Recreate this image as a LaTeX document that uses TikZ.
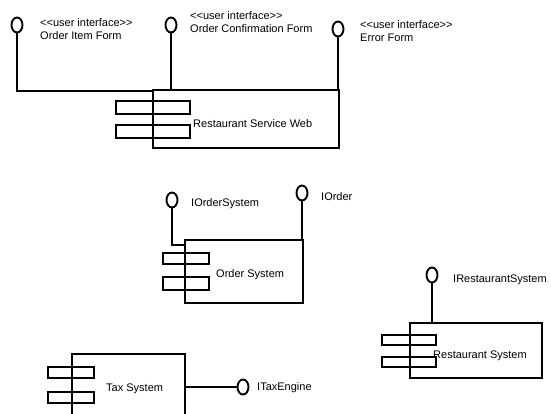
\documentclass[tikz,border=0pt]{standalone}
\usepackage{fontspec}
\setmainfont{Liberation Sans}
\usetikzlibrary{shapes.geometric}
\newcommand{\ltlt}{<\kern0pt<}
\newcommand{\gtgt}{>\kern0pt>}
\begin{document}
\begin{tikzpicture}[x=1pt,y=-1pt,
  comp/.style={draw,line width=1.9pt,rectangle,inner sep=0pt},
  lolly/.style={draw,line width=1.9pt,ellipse,minimum width=11pt,minimum height=15pt,inner sep=0pt},
  conn/.style={line width=1.9pt},
  tab/.style={line width=1.9pt},
  lbl/.style={inner sep=0pt,anchor=west,font=\fontsize{11}{13}\selectfont,align=left}]
\useasboundingbox (0,0) rectangle (551,413);
\clip (0,0) rectangle (551,413);
% Restaurant Service Web
\node[comp,minimum width=186pt,minimum height=58pt] (rsw) at (246,119) {};
\draw[tab] (116,101) rectangle (190,114);
\draw[tab] (116,125) rectangle (190,138);
\node[lbl] (rswt) at (193,124) {Restaurant Service Web};
\node[lolly] (if1) at (17,25) {};
\node[lolly] (if2) at (171,25) {};
\node[lolly] (if3) at (338,29) {};
\draw[conn] (if1.south) |- ([yshift=-2pt]rsw.north west);
\draw[conn] (if2.south) -- (if2.south |- rsw.north);
\draw[conn] (if3.south) -- (if3.south |- rsw.north);
\node[lbl] (l1) at (40,29.5) {\ltlt user interface\gtgt\\Order Item Form};
\node[lbl] (l2) at (190,22.5) {\ltlt user interface\gtgt\\Order Confirmation Form};
\node[lbl] (l3) at (360,31.5) {\ltlt user interface\gtgt\\Error Form};
% Order System
\node[comp,minimum width=118pt,minimum height=63pt] (os) at (244,271.5) {};
\draw[tab] (163,253) rectangle (209,264);
\draw[tab] (163,277) rectangle (209,290);
\node[lbl] (ost) at (216,275) {Order System};
\node[lolly] (ios) at (172,200) {};
\node[lolly] (io) at (302,193) {};
\draw[conn] (ios.south) |- ([yshift=-6pt]os.north west);
\draw[conn] (io.south) -- (io.south |- os.north);
\node[lbl] (iost) at (191,204) {IOrderSystem};
\node[lbl] (iot) at (321,197) {IOrder};
% Restaurant System
\node[comp,minimum width=132pt,minimum height=55pt] (rs) at (476,350.5) {};
\draw[tab] (382,335) rectangle (436,345);
\draw[tab] (382,357) rectangle (436,367);
\node[lbl] (rst) at (433,356) {Restaurant System};
\node[lolly] (irs) at (432,275) {};
\draw[conn] (irs.south) -- (irs.south |- rs.north);
\node[lbl] (irst) at (453,280) {IRestaurantSystem};
% Tax System
\node[comp,minimum width=113pt,minimum height=76pt] (ts) at (128.5,392) {};
\draw[tab] (48,367) rectangle (94,378);
\draw[tab] (48,392) rectangle (94,403);
\node[lbl] (tst) at (106,389) {Tax System};
\node[lolly] (ite) at (243,387) {};
\coordinate (tsr) at (185,387);
\draw[conn] (tsr) -- (ite.west);
\node[lbl] (itet) at (257,388) {ITaxEngine};
\end{tikzpicture}
\end{document}
